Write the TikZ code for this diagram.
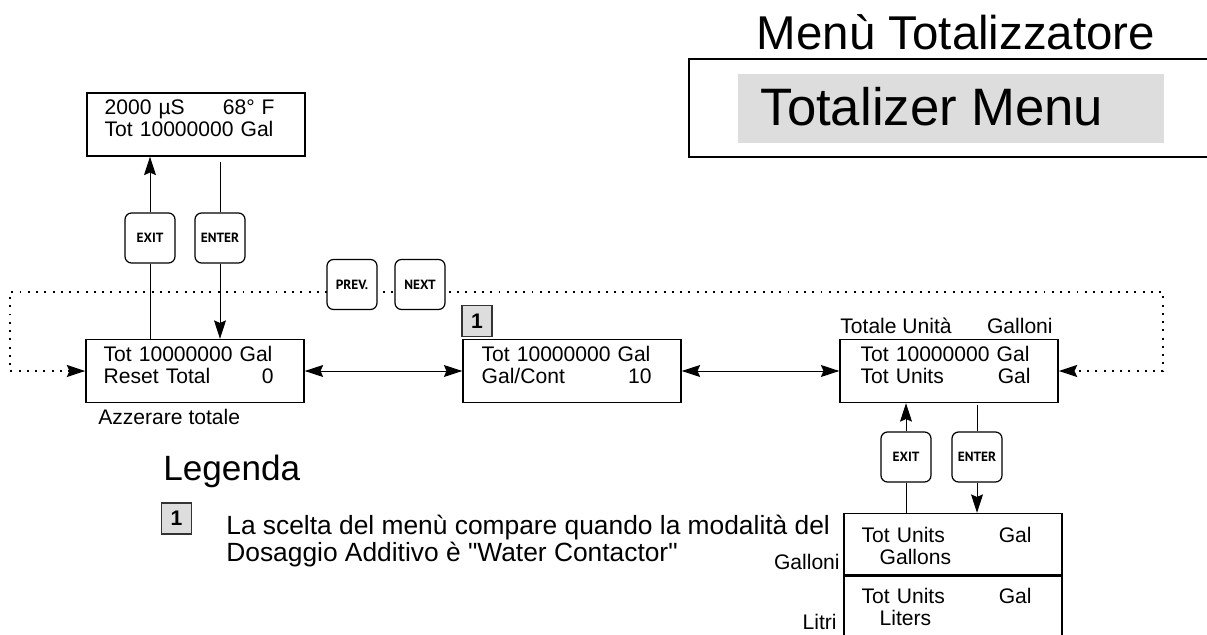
\documentclass[tikz,border=0pt]{standalone}
\usepackage{fontspec}
\setmainfont{Liberation Sans}[Ligatures=TeXOff]
\newfontfamily\keyfont{PT Sans}
\usetikzlibrary{arrows.meta,positioning}
\definecolor{panelgray}{RGB}{221,221,221}
\tikzset{
  >={Stealth[length=10.5pt,width=6.8pt,inset=1.5pt]},
  lcd/.style={draw,line width=0.8pt,minimum width=4.36cm,minimum height=1.26cm,inner sep=0pt},
  lcdtext/.style={anchor=north west,inner sep=0pt,text width=3.4cm,align=left,font=\fontsize{12}{12.5}\selectfont},
  keycap/.style={draw,fill=white,line width=0.7pt,rounded corners=0.13cm,minimum width=1cm,minimum height=1cm,inner sep=0pt,font=\keyfont\bfseries\fontsize{7.6}{8}\selectfont},
  wire/.style={line width=0.55pt},
  menuloop/.style={line width=1.1pt,dash pattern=on 1.1pt off 3.6pt},
  badge/.style={draw=black!80,fill=panelgray,line width=0.6pt,minimum width=0.6cm,minimum height=0.62cm,inner sep=0pt,font=\bfseries\fontsize{12}{12}\selectfont},
  tag/.style={inner sep=0pt}
}

\begin{document}
\begin{tikzpicture}[x=0.02cm,y=-0.02cm,font=\fontsize{12}{12.5}\selectfont]
\useasboundingbox (0,0) rectangle (1207,635);

\node[font=\fontsize{27}{30}\selectfont] (title) at (956,32.5) {Menù Totalizzatore};
\draw[line width=0.8pt] (1210,59) -- (689,59) -- (689,157) -- (1210,157);
\fill[panelgray] (738,74) rectangle (1164,143);
\node[font=\fontsize{30}{32}\selectfont] (titleen) at (932,107) {Totalizer Menu};

\node[lcd] (home) at (196,124.5) {};
\node[lcdtext] at ([shift={(18,7)}]home.north west) {2000 µS\hfill 68° F\\Tot 10000000 Gal};

\node[lcd] (reset) at (195,371) {};
\node[lcdtext] at ([shift={(18,7)}]reset.north west) {Tot 10000000 Gal\\Reset Total\hfill 0};
\node[tag,anchor=base west] (resetlbl) at (98,424) {Azzerare totale};

\node[lcd] (gcont) at (572,371) {};
\node[lcdtext] at ([shift={(19,7)}]gcont.north west) {Tot 10000000 Gal\\Gal/Cont\hfill 10};
\node[badge] (opt) at (477,321) {1};

\node[lcd] (units) at (949,371) {};
\node[lcdtext] at ([shift={(21,7)}]units.north west) {Tot 10000000 Gal\\Tot Units\hfill Gal};
\node[tag,anchor=base west] (unitslbl) at (840,333) {Totale Unità};
\node[tag,anchor=base east] (unitsval) at (1053,333) {Galloni};

\node[lcd] (gal) at (953,545) {};
\node[lcdtext] at ([shift={(18,14)}]gal.north west) {Tot Units\hfill Gal\\\hspace*{0.36cm}Gallons};
\node[lcd] (lit) at (953,608) {};
\node[lcdtext] at ([shift={(18,12)}]lit.north west) {Tot Units\hfill Gal\\\hspace*{0.36cm}Liters};
\draw[line width=1.5pt] (lit.north west) -- (lit.north east);
\node[tag,anchor=base east] (gallbl) at (840,569) {Galloni};
\node[tag,anchor=base east] (litlbl) at (837,629) {Litri};

\node[keycap] (exitA) at (150,238) {EXIT};
\node[keycap] (enterA) at (220,238) {ENTER};
\draw[wire] (exitA.south) -- (exitA.south |- reset.north);
\draw[wire,->] (exitA.north) -- (exitA.north |- home.south);
\draw[wire,shorten <=2.8pt] (enterA.north |- home.south) -- (enterA.north);
\draw[wire,->] (enterA.south) -- (enterA.south |- reset.north);

\node[keycap] (exitB) at (906,457) {EXIT};
\node[keycap] (enterB) at (977,457) {ENTER};
\draw[wire] (exitB.south) -- (exitB.south |- gal.north);
\draw[wire,->] (exitB.north) -- (exitB.north |- units.south);
\draw[wire,shorten <=1.2pt] (enterB.north |- units.south) -- (enterB.north);
\draw[wire,->] (enterB.south) -- (enterB.south |- gal.north);

\draw[wire,<->] (reset.east) -- (gcont.west);
\draw[wire,<->] (gcont.east) -- (units.west);

\coordinate (loopL) at (10,292);
\coordinate (loopR) at (1163,292);
\draw[menuloop,<->] (reset.west) -| (loopL) -- (loopR) |- (units.east);
\node[keycap] (prev) at (352,284.5) {PREV.};
\node[keycap] (next) at (420,284.5) {NEXT};

\node[tag,anchor=base west,font=\fontsize{20}{24}\selectfont] (legend) at (163,480) {Legenda};
\node[badge] (legendopt) at (176.5,518.5) {1};
\node[tag,anchor=north west,align=left,font=\fontsize{15}{15.4}\selectfont] (legendtxt) at (226,515) {La scelta del menù compare quando la modalità del\\Dosaggio Additivo è "Water Contactor"};
\end{tikzpicture}
\end{document}
